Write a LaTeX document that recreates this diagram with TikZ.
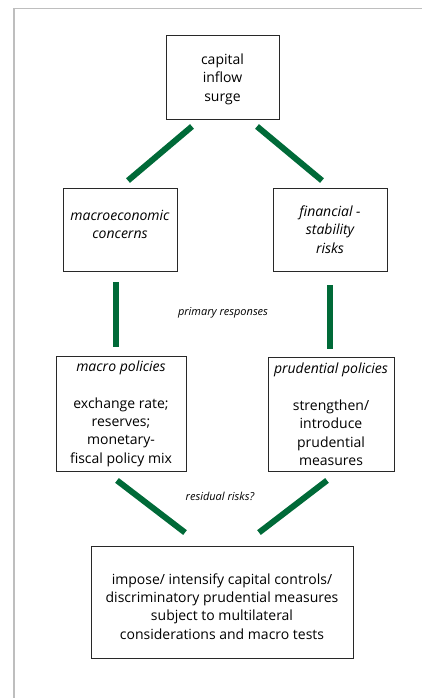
\documentclass[tikz,border=0pt]{standalone}
\usepackage{fontspec}
\setmainfont{Open Sans}
\usetikzlibrary{calc}
\definecolor{lk}{RGB}{0,106,56}
\definecolor{fr}{RGB}{190,190,190}
\definecolor{bx}{RGB}{40,40,40}
\tikzset{
  box/.style={draw=bx, line width=0.9pt, align=center, inner sep=0pt,
    font=\fontsize{14}{18.3}\selectfont},
  note/.style={inner sep=0pt, font=\fontsize{11}{12}\selectfont\itshape},
  link/.style={draw=lk, line width=6pt},
  vlink/.style={draw=lk, line width=5.5pt}
}
\begin{document}
\begin{tikzpicture}[x=1pt,y=-1pt]
\useasboundingbox (0,0) rectangle (422,698);
\draw[fr, line width=1.3pt] (14,698) -- (14,8.5) -- (422,8.5);

\node[box, minimum width=113pt, minimum height=84pt] (top) at (222.5,77)
  {\\[-3pt]capital\\inflow\\surge};
\node[box, minimum width=114pt, minimum height=83pt] (mac) at (120,229.5)
  {\itshape macroeconomic\\\itshape concerns\\[-8pt]};
\node[box, minimum width=114pt, minimum height=83pt] (fin) at (330,229.5)
  {\itshape financial -\\\itshape stability\\\itshape risks};
\node[box, minimum width=130pt, minimum height=115pt] (mpol) at (121,413.5)
  {\itshape macro policies\\[19pt]exchange rate;\\reserves;\\monetary-\\fiscal policy mix};
\node[box, minimum width=126pt, minimum height=114pt] (ppol) at (331,414)
  {\itshape prudential policies\\[19pt]strengthen/\\introduce\\prudential\\measures};
\node[box, minimum width=262pt, minimum height=112pt] (cc) at (222,602)
  {\\[1pt]impose/ intensify capital controls/\\discriminatory prudential measures\\subject to multilateral\\considerations and macro tests};

\node[note] (pr) at (223,313) {primary responses};
\node[note] (rr) at (220,496) {residual risks?};

\coordinate (t1) at ($(top.south)+(-30.5,7)$);
\coordinate (m1) at ($(mac.north)+(8,-7)$);
\coordinate (t2) at ($(top.south)+(34.5,7)$);
\coordinate (f1) at ($(fin.north)+(-8,-7)$);
\coordinate (m2) at ($(mac.south)+(-4,11)$);
\coordinate (p1) at ($(mpol.north)+(-5,-9)$);
\coordinate (f2) at ($(fin.south)+(0,14)$);
\coordinate (p2) at ($(ppol.north)+(-1,-8)$);
\coordinate (b1) at ($(mpol.south)+(-4,9)$);
\coordinate (c1) at ($(cc.north)+(-37,-13)$);
\coordinate (b2) at ($(ppol.south)+(-4,9)$);
\coordinate (c2) at ($(cc.north)+(37,-13)$);

\draw[link] (t1) -- (m1);
\draw[link] (t2) -- (f1);
\draw[vlink] (m2) -- (p1);
\draw[vlink] (f2) -- (p2);
\draw[link] (b1) -- (c1);
\draw[link] (b2) -- (c2);
\end{tikzpicture}
\end{document}
